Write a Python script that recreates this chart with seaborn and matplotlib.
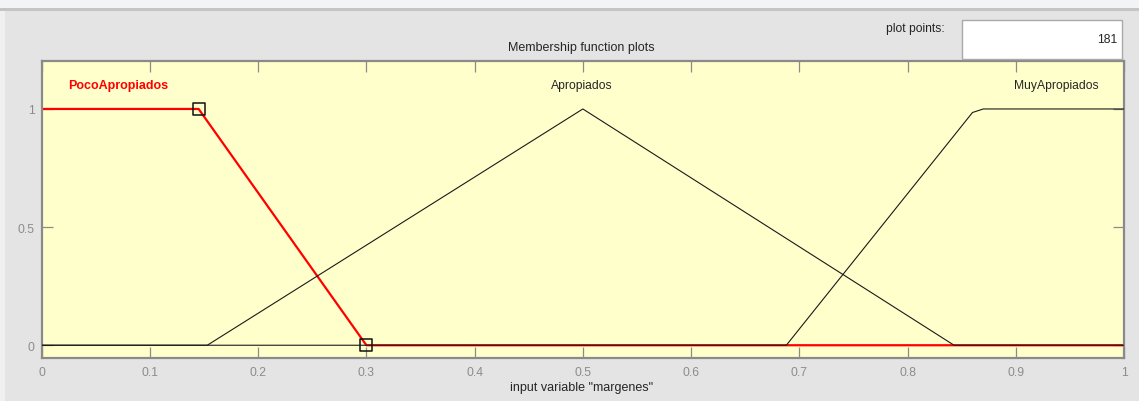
import matplotlib
matplotlib.use("Agg")
import matplotlib.pyplot as plt
import seaborn as sns
import pandas as pd
from matplotlib.patches import Rectangle

# Membership functions of the input variable "margenes" (vertices of each shape)
poco_x = [0.0, 0.145, 0.30, 1.0]
poco_y = [1.0, 1.0, 0.0, 0.0]
apro_x = [0.0, 0.153, 0.50, 0.843, 1.0]
apro_y = [0.0, 0.0, 1.0, 0.0, 0.0]
muy_x = [0.0, 0.688, 0.860, 0.870, 1.0]
muy_y = [0.0, 0.0, 0.985, 1.0, 1.0]

mf_names = ["PocoApropiados", "Apropiados", "MuyApropiados"]
label_x = [0.0705, 0.499, 0.9375]
label_y = 1.1

# parameter handles of the selected function
sel_x = [0.145, 0.30]
sel_y = [1.0, 0.0]

x_ticks = [0.0, 0.1, 0.2, 0.3, 0.4, 0.5, 0.6, 0.7, 0.8, 0.9, 1.0]
x_tick_labels = ["0", "0.1", "0.2", "0.3", "0.4", "0.5", "0.6", "0.7", "0.8", "0.9", "1"]
y_ticks = [0.0, 0.5, 1.0]
y_tick_labels = ["0", "0.5", "1"]
plot_points = "181"

sns.set_theme(style="white")
plt.rcParams["font.family"] = ["Liberation Sans", "DejaVu Sans"]

W, H = 1139, 402
fig = plt.figure(figsize=(W / 100, H / 100), dpi=100, facecolor="#e4e4e4")


def fx(px):
    return px / W


def fy(py):
    return 1 - py / H


# window chrome
fig.patches.append(Rectangle((0, fy(9)), 1, 9 / H, transform=fig.transFigure,
                             facecolor="#f2f3f5", edgecolor="none", zorder=0))
fig.patches.append(Rectangle((0, fy(11.5)), 1, 2.5 / H, transform=fig.transFigure,
                             facecolor="#c4c4c4", edgecolor="none", zorder=0))
fig.patches.append(Rectangle((0, 0), 5 / W, fy(11.5), transform=fig.transFigure,
                             facecolor="#f0f0f0", edgecolor="none", zorder=0))

# plot points box
fig.patches.append(Rectangle((fx(962), fy(59.5)), 160 / W, 39 / H, transform=fig.transFigure,
                             facecolor="white", edgecolor="#a9a9a9", lw=1, zorder=1))
fig.text(fx(945), fy(29), "plot points:", ha="right", va="center",
         fontsize=8.7, color="#262626")
fig.text(fx(1117), fy(40), plot_points, ha="right", va="center",
         fontsize=8.7, color="#262626")

ax = fig.add_axes([fx(41.7), fy(359), (1124 - 41.7) / W, (359 - 62) / H])
ax.set_facecolor("#ffffcc")

df_poco = pd.DataFrame({"x": poco_x, "y": poco_y})
df_apro = pd.DataFrame({"x": apro_x, "y": apro_y})
df_muy = pd.DataFrame({"x": muy_x, "y": muy_y})

sns.lineplot(data=df_poco, x="x", y="y", ax=ax, color="#ff0000", lw=1.6,
             sort=False, estimator=None, zorder=2)
sns.lineplot(data=df_apro, x="x", y="y", ax=ax, color="#1a1a1a", lw=0.8,
             sort=False, estimator=None, zorder=3)
sns.lineplot(data=df_muy, x="x", y="y", ax=ax, color="#1a1a1a", lw=0.8,
             sort=False, estimator=None, zorder=3)
sns.scatterplot(x=sel_x, y=sel_y, ax=ax, marker="s", s=72, facecolor="none",
                edgecolor="#111111", linewidth=1.1, zorder=4)

ax.text(label_x[0], label_y, mf_names[0], ha="center", va="center",
        fontsize=9, fontweight="bold", color="#ff0000")
for name, lx in zip(mf_names[1:], label_x[1:]):
    ax.text(lx, label_y, name, ha="center", va="center", fontsize=8.7, color="#262626")

ax.set_xlim(0, 1)
ax.set_ylim(-0.054, 1.203)
ax.set_xticks(x_ticks)
ax.set_xticklabels(x_tick_labels)
ax.set_yticks(y_ticks)
ax.set_yticklabels(y_tick_labels)
ax.set_xlabel("")
ax.set_ylabel("")
ax.tick_params(direction="in", length=8, width=0.9, color="#8c8c8c",
               labelcolor="#8c8c8c", labelsize=8.7, top=True, right=True,
               bottom=True, left=True)
ax.tick_params(axis="x", pad=6)
ax.tick_params(axis="y", pad=5)
for sp in ax.spines.values():
    sp.set_color("#8a8a8a")
    sp.set_linewidth(1.6)
    sp.set_visible(True)

fig.text(fx(581.5), fy(47.5), "Membership function plots", ha="center", va="center",
         fontsize=9, color="#262626")
fig.text(fx(581.5), fy(388), 'input variable "margenes"', ha="center", va="center",
         fontsize=9, color="#262626")

fig.savefig("out.png", dpi=100, facecolor=fig.get_facecolor())
